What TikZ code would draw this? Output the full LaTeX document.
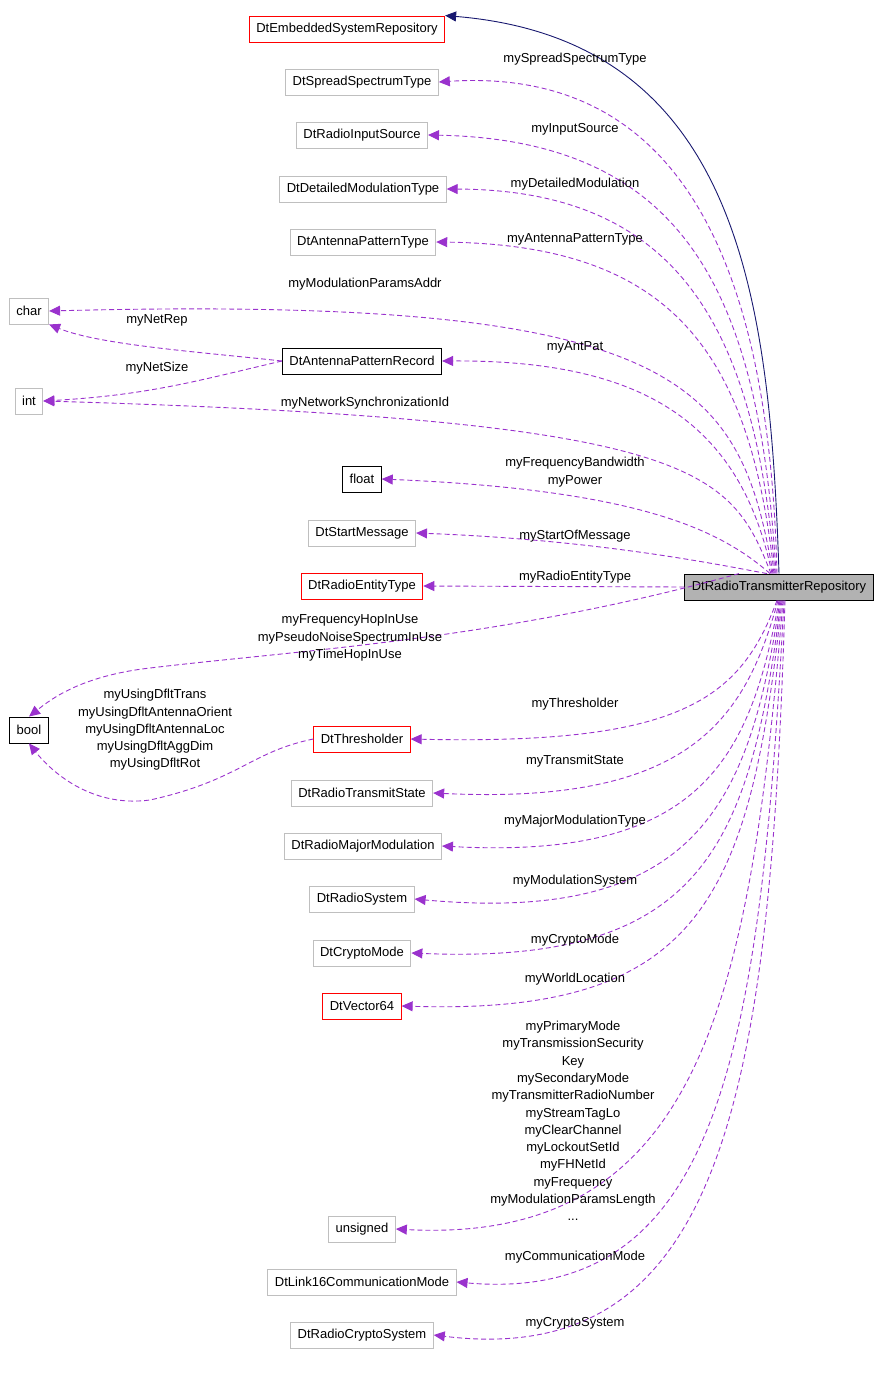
\documentclass[tikz,border=0pt]{standalone}
\usepackage{fontspec}
\setmainfont{Liberation Sans}
\usetikzlibrary{arrows.meta, positioning}
\definecolor{depcol}{RGB}{154,50,205}
\definecolor{inhcol}{RGB}{25,25,112}
\definecolor{boxgray}{RGB}{191,191,191}

\begin{document}
\begin{tikzpicture}[x=1pt, y=-1pt,
    font=\fontsize{13}{15}\selectfont,
    cls/.style={draw=boxgray, fill=white, line width=0.9pt, inner xsep=7pt, minimum height=26pt, inner ysep=0pt},
    clsred/.style={cls, draw=red},
    clsblk/.style={cls, draw=black},
    dep/.style={draw=depcol, line width=0.9pt, dash pattern=on 5pt off 3pt, -{Triangle[width=10pt,length=11pt]}},
    inh/.style={draw=inhcol, line width=0.9pt, -{Triangle[width=10pt,length=11pt]}},
    lbl/.style={align=center, inner sep=0pt, font=\fontsize{13}{17.3}\selectfont}]
    \useasboundingbox (0,0) rectangle (885,1377);

    % Classes
    \node[cls, fill=black!30, draw=black] (trans) at (779,587) {DtRadioTransmitterRepository};
    \node[clsred] (embed) at (347,29) {DtEmbeddedSystemRepository};
    \node[cls] (spread) at (362,82) {DtSpreadSpectrumType};
    \node[cls] (input) at (362,135) {DtRadioInputSource};
    \node[cls] (detail) at (363,189) {DtDetailedModulationType};
    \node[cls] (antype) at (363,242) {DtAntennaPatternType};
    \node[cls] (char) at (29,311) {char};
    \node[clsblk] (anrec) at (362,361) {DtAntennaPatternRecord};
    \node[cls] (int) at (29,401) {int};
    \node[clsblk] (float) at (362,479) {float};
    \node[cls] (start) at (362,533) {DtStartMessage};
    \node[clsred] (entity) at (362,586) {DtRadioEntityType};
    \node[clsblk] (bool) at (29,730) {bool};
    \node[clsred] (thresh) at (362,739) {DtThresholder};
    \node[cls] (tstate) at (362,793) {DtRadioTransmitState};
    \node[cls] (major) at (363,846) {DtRadioMajorModulation};
    \node[cls] (system) at (362,899) {DtRadioSystem};
    \node[cls] (crypto) at (362,953) {DtCryptoMode};
    \node[clsred] (vector) at (362,1006) {DtVector64};
    \node[cls] (unsig) at (362,1229) {unsigned};
    \node[cls] (link) at (362,1282) {DtLink16CommunicationMode};
    \node[cls] (csys) at (362,1335) {DtRadioCryptoSystem};

    % Inheritance
    \draw[inh] (trans.north) .. controls (770,300) and (740,40) .. (embed.north east);

    % Upper members
    \draw[dep] ([xshift=-2pt]trans.north) .. controls (770,300) and (700,65) .. (spread.east);
    \draw[dep] ([xshift=-3pt]trans.north) .. controls (760,300) and (690,140) .. (input.east);
    \draw[dep] ([xshift=-4pt]trans.north) .. controls (755,330) and (680,190) .. (detail.east);
    \draw[dep] ([xshift=-5pt]trans.north) .. controls (750,350) and (670,245) .. (antype.east);
    \draw[dep] ([xshift=-6pt]trans.north) .. controls (740,380) and (680,295) .. (char.east);
    \draw[dep] ([xshift=-7pt]trans.north) .. controls (740,420) and (640,360) .. (anrec.east);
    \draw[dep] ([xshift=-8pt]trans.north) .. controls (730,470) and (700,420) .. (int.east);
    \draw[dep] ([xshift=-9pt]trans.north) .. controls (720,530) and (640,490) .. (float.east);
    \draw[dep] ([xshift=-12pt]trans.north) .. controls (720,565) and (600,540) .. (start.east);
    \draw[dep] (trans.west) -- (entity.east);
    \draw[dep] ([xshift=-40pt]trans.north) .. controls (500,640) and (300,650) .. (150,668) .. controls (80,676) and (50,700) .. (bool.north);

    % Record members
    \draw[dep] (anrec.west) .. controls (200,352) and (100,345) .. (char.south east);
    \draw[dep] (anrec.west) .. controls (200,380) and (150,395) .. (int.east);

    % Lower members
    \draw[dep] (thresh.west) .. controls (250,752) and (240,780) .. (150,800) .. controls (90,808) and (50,770) .. (bool.south);
    \draw[dep] ([xshift=-2pt]trans.south) .. controls (740,700) and (680,745) .. (thresh.east);
    \draw[dep] ([xshift=-1pt]trans.south) .. controls (745,720) and (690,805) .. (tstate.east);
    \draw[dep] (trans.south) .. controls (750,760) and (700,860) .. (major.east);
    \draw[dep] ([xshift=1pt]trans.south) .. controls (750,800) and (700,925) .. (system.east);
    \draw[dep] ([xshift=2pt]trans.south) .. controls (750,850) and (700,965) .. (crypto.east);
    \draw[dep] ([xshift=3pt]trans.south) .. controls (750,900) and (700,1015) .. (vector.east);
    \draw[dep] ([xshift=4pt]trans.south) .. controls (750,1000) and (700,1245) .. (unsig.east);
    \draw[dep] ([xshift=5pt]trans.south) .. controls (760,1050) and (720,1305) .. (link.east);
    \draw[dep] ([xshift=6pt]trans.south) .. controls (770,1100) and (720,1370) .. (csys.east);

    % Labels
    \node[lbl] (l1) at (575,59) {mySpreadSpectrumType};
    \node[lbl] (l2) at (575,129) {myInputSource};
    \node[lbl] (l3) at (575,184) {myDetailedModulation};
    \node[lbl] (l4) at (575,239) {myAntennaPatternType};
    \node[lbl] (l5) at (365,284) {myModulationParamsAddr};
    \node[lbl] (l6) at (157,320) {myNetRep};
    \node[lbl] (l7) at (575,347) {myAntPat};
    \node[lbl] (l8) at (157,368) {myNetSize};
    \node[lbl] (l9) at (365,403) {myNetworkSynchronizationId};
    \node[lbl] (l10) at (575,472) {myFrequencyBandwidth\\myPower};
    \node[lbl] (l11) at (575,536) {myStartOfMessage};
    \node[lbl] (l12) at (575,577) {myRadioEntityType};
    \node[lbl] (l13) at (350,638) {myFrequencyHopInUse\\myPseudoNoiseSpectrumInUse\\myTimeHopInUse};
    \node[lbl] (l14) at (155,730) {myUsingDfltTrans\\myUsingDfltAntennaOrient\\myUsingDfltAntennaLoc\\myUsingDfltAggDim\\myUsingDfltRot};
    \node[lbl] (l15) at (575,704) {myThresholder};
    \node[lbl] (l16) at (575,761) {myTransmitState};
    \node[lbl] (l17) at (575,821) {myMajorModulationType};
    \node[lbl] (l18) at (575,881) {myModulationSystem};
    \node[lbl] (l19) at (575,940) {myCryptoMode};
    \node[lbl] (l20) at (575,979) {myWorldLocation};
    \node[lbl] (l21) at (573,1121) {myPrimaryMode\\myTransmissionSecurity\\Key\\mySecondaryMode\\myTransmitterRadioNumber\\myStreamTagLo\\myClearChannel\\myLockoutSetId\\myFHNetId\\myFrequency\\myModulationParamsLength\\...};
    \node[lbl] (l22) at (575,1257) {myCommunicationMode};
    \node[lbl] (l23) at (575,1323) {myCryptoSystem};
\end{tikzpicture}
\end{document}
